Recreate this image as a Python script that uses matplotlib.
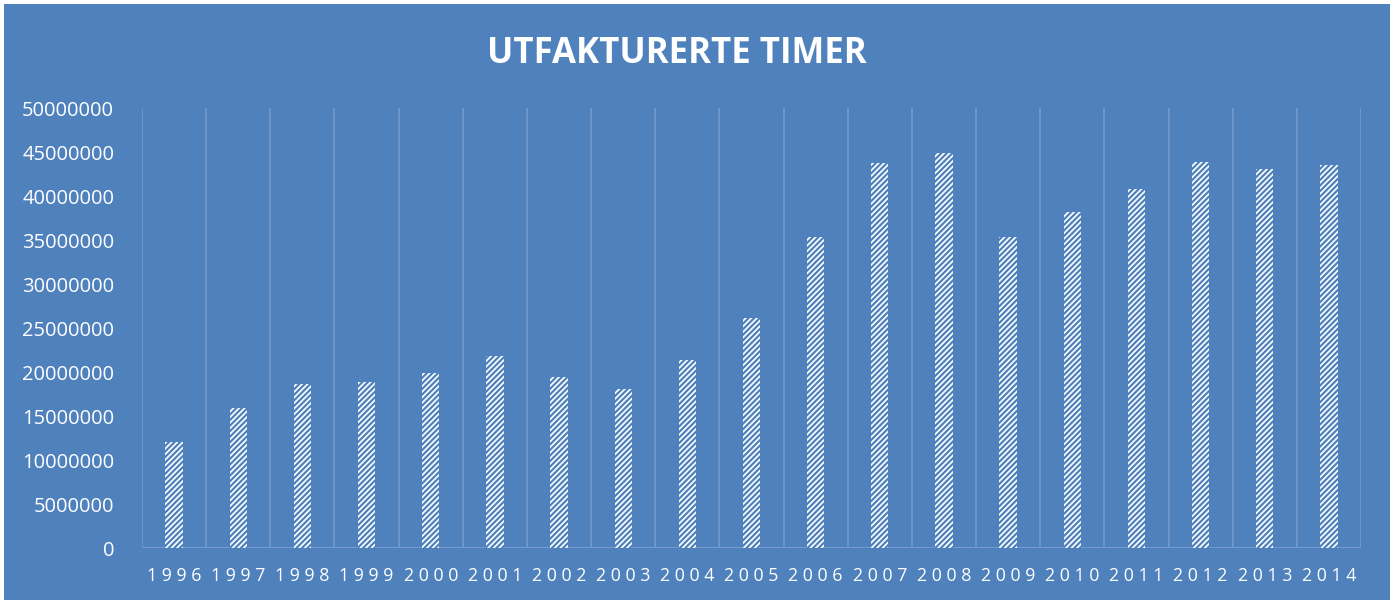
import matplotlib
matplotlib.use("Agg")
import matplotlib.pyplot as plt
from matplotlib.patches import Rectangle
import numpy as np

years = [1996, 1997, 1998, 1999, 2000, 2001, 2002, 2003, 2004, 2005,
         2006, 2007, 2008, 2009, 2010, 2011, 2012, 2013, 2014]
hours = [12100000, 15900000, 18600000, 18900000, 19900000, 21800000,
         19400000, 18100000, 21400000, 26100000, 35300000, 43750000,
         44900000, 35300000, 38200000, 40800000, 43900000, 43100000,
         43500000]
y_ticks = [0, 5000000, 10000000, 15000000, 20000000, 25000000,
           30000000, 35000000, 40000000, 45000000, 50000000]
title = "UTFAKTURERTE TIMER"

BG = "#4F81BD"
GRID = "#7699CB"

plt.rcParams['font.family'] = ['Open Sans', 'DejaVu Sans']
plt.rcParams['hatch.linewidth'] = 1.6

W, H = 1394, 604
fig = plt.figure(figsize=(W / 100, H / 100), dpi=100, facecolor="white")
fig.patches.append(Rectangle((4 / W, 4 / H), (W - 8) / W, (H - 8) / H,
                             transform=fig.transFigure, facecolor=BG,
                             edgecolor="none", zorder=-10))

ax = fig.add_axes([142 / W, 1 - 548 / H, (1361 - 142) / W, (548 - 108) / H])
ax.set_facecolor(BG)
ax.patch.set_alpha(0)

x = np.arange(len(years))
ax.bar(x, hours, width=0.27, color="white", edgecolor=BG, hatch="//////",
       linewidth=0, zorder=3)

ax.set_xlim(-0.5, len(years) - 0.5)
ax.set_ylim(0, 50000000)
ax.set_yticks(y_ticks)
ax.set_yticklabels([str(v) for v in y_ticks], color="white", fontsize=14.5)
ax.set_xticks(x)
ax.set_xticklabels([" ".join(str(y)) for y in years], color="white",
                   fontsize=12.8)
ax.tick_params(axis="both", length=0)
ax.tick_params(axis="y", pad=20)
ax.tick_params(axis="x", pad=14)

for b in np.arange(-0.5, len(years), 1.0):
    ax.axvline(b, color=GRID, linewidth=1.2, zorder=1)
ax.axhline(0, color=GRID, linewidth=1.5, zorder=2)

for s in ax.spines.values():
    s.set_visible(False)

fig.text(677 / W, 1 - 54 / H, title, color="white", fontsize=25,
         fontweight="bold", ha="center", va="center")

fig.savefig("out.png", dpi=100, facecolor="white")
